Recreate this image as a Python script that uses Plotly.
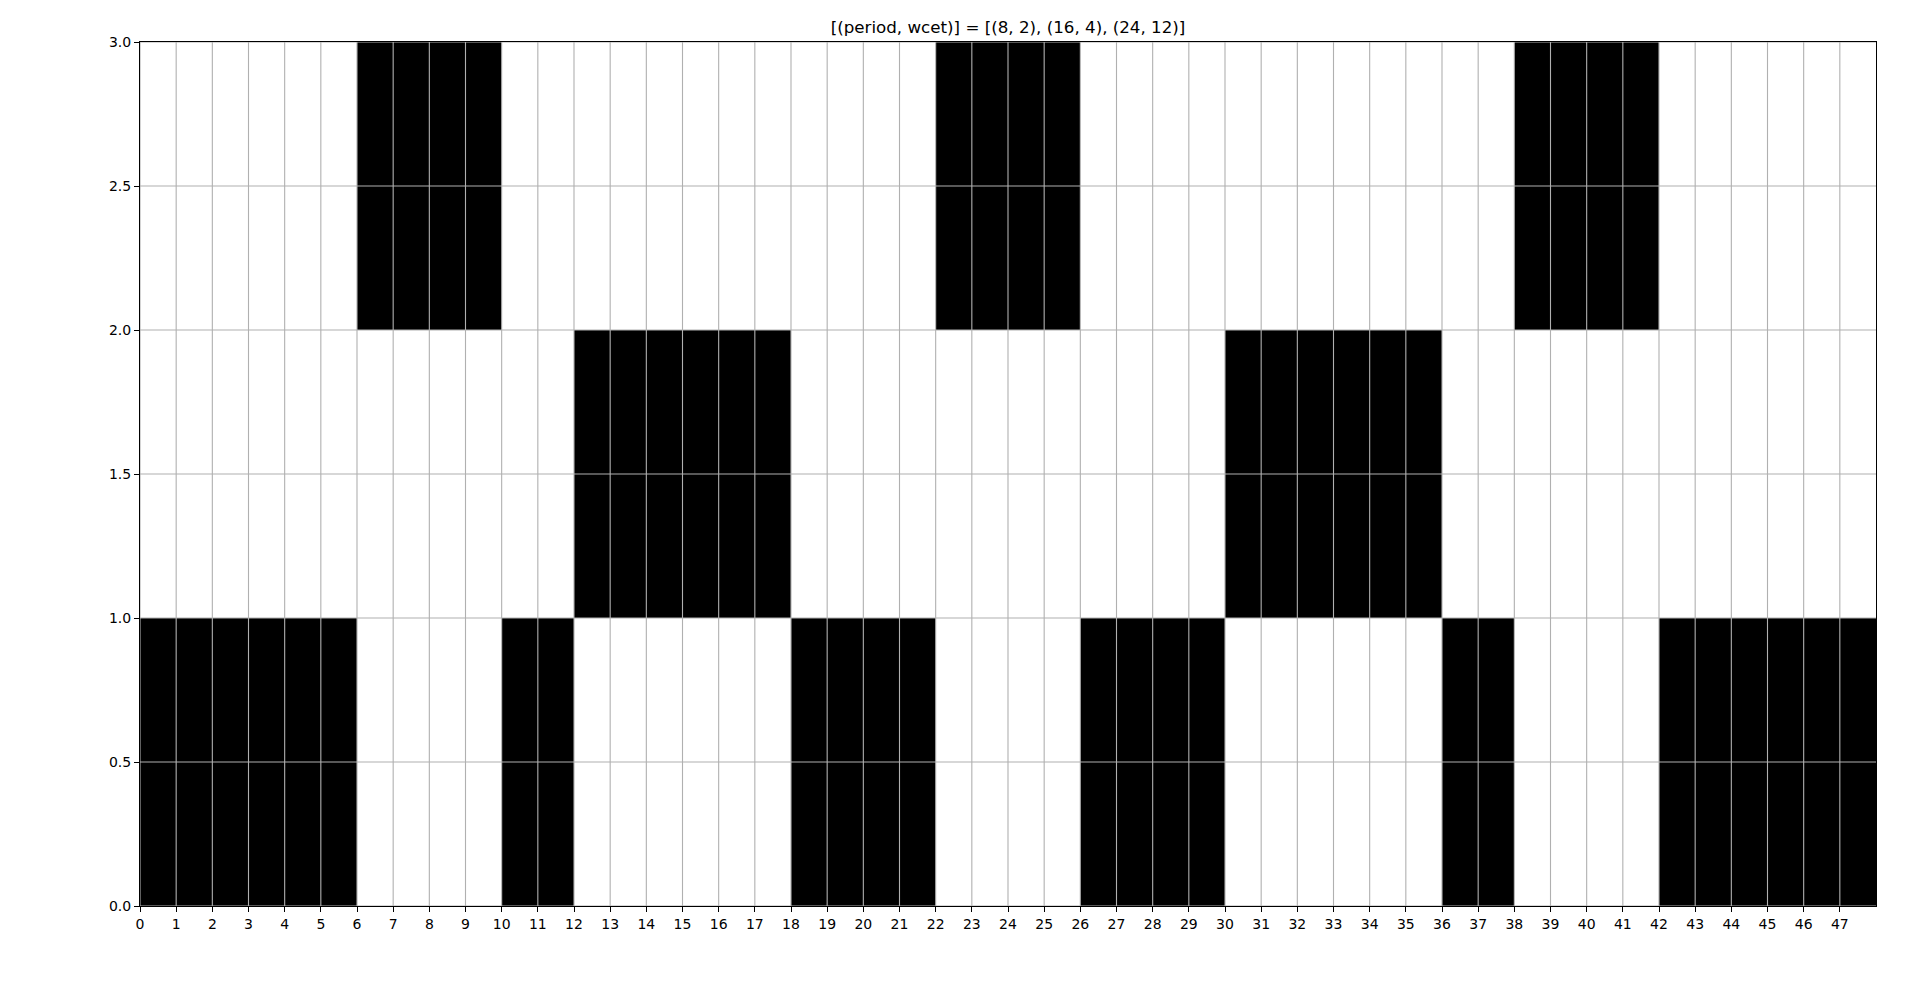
import plotly.graph_objects as go

# Schedule segments: (task row, start, end)
task_rows = [0, 0, 0, 0, 0, 0, 1, 1, 2, 2, 2]
seg_start = [0, 10, 18, 26, 36, 42, 12, 30, 6, 22, 38]
seg_end = [6, 12, 22, 30, 38, 48, 18, 36, 10, 26, 42]

x_ticks = list(range(0, 48))
y_ticks = [0.0, 0.5, 1.0, 1.5, 2.0, 2.5, 3.0]
x_range = [0, 48]
y_range = [0, 3]
title_text = "[(period, wcet)] = [(8, 2), (16, 4), (24, 12)]"

centers = [(s + e) / 2 for s, e in zip(seg_start, seg_end)]
widths = [e - s for s, e in zip(seg_start, seg_end)]

fig = go.Figure()
fig.add_trace(go.Bar(
    x=centers,
    y=[1] * len(task_rows),
    base=task_rows,
    width=widths,
    marker=dict(color="black", line=dict(width=0)),
    showlegend=False,
    hoverinfo="skip",
))

# grid lines drawn above the bars (as matplotlib's grid does here)
gx, gy = [], []
for v in x_ticks:
    gx += [v, v, None]
    gy += [y_range[0], y_range[1], None]
for v in y_ticks:
    gx += [x_range[0], x_range[1], None]
    gy += [v, v, None]
fig.add_trace(go.Scatter(
    x=gx, y=gy, mode="lines",
    line=dict(color="#b0b0b0", width=1.1),
    showlegend=False, hoverinfo="skip",
))

font = dict(family="DejaVu Sans", size=14, color="black")
fig.update_layout(
    width=1920, height=986,
    margin=dict(l=140, r=44, t=42, b=80),
    paper_bgcolor="white", plot_bgcolor="white",
    bargap=0,
    title=dict(text=title_text, x=0.5, xref="paper", xanchor="center",
               y=1 - 27 / 986, yref="container", yanchor="middle",
               font=dict(family="DejaVu Sans", size=16.7, color="black")),
    xaxis=dict(range=x_range, tickmode="array", tickvals=x_ticks,
               ticktext=[str(v) for v in x_ticks],
               showgrid=False,
               showline=True, linecolor="black", linewidth=1.1, mirror=True,
               ticks="outside", ticklen=5, tickwidth=1.1, tickcolor="black",
               tickfont=font, zeroline=False, layer="above traces"),
    yaxis=dict(range=y_range, tickmode="array", tickvals=y_ticks,
               ticktext=[f"{v:.1f}" for v in y_ticks],
               showgrid=False,
               showline=True, linecolor="black", linewidth=1.1, mirror=True,
               ticks="outside", ticklen=5, tickwidth=1.1, tickcolor="black",
               tickfont=font, zeroline=False, layer="above traces"),
)

fig.write_html("out.html")
